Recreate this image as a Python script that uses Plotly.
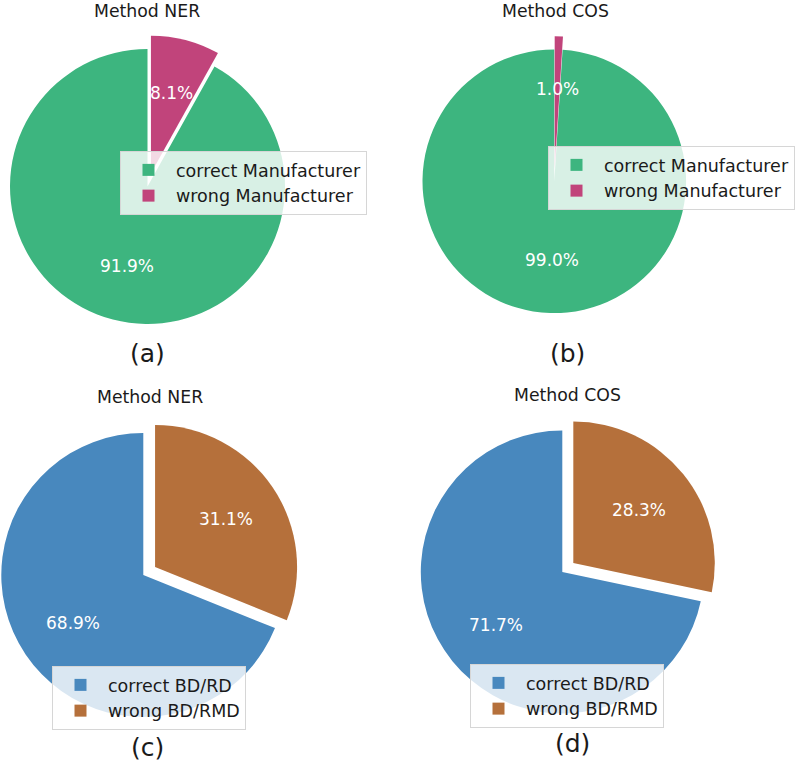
import math
import plotly.graph_objects as go

# ---------------- data ----------------
labels_mfr = ["correct Manufacturer", "wrong Manufacturer"]
labels_bd = ["correct BD/RD", "wrong BD/RMD"]
ner_mfr = [91.9, 8.1]
cos_mfr = [99.0, 1.0]
ner_bd = [68.9, 31.1]
cos_bd = [71.7, 28.3]
titles = ["Method NER", "Method COS", "Method NER", "Method COS"]
panel_tags = ["(a)", "(b)", "(c)", "(d)"]

# ---------------- style / layout ----------------
W, H = 797, 766
PULL = 0.1
colors_mfr = ["#3db57f", "#c1447b"]
colors_bd = ["#4888be", "#b5703b"]
CLEAR = "rgba(0,0,0,0)"

panels = [
    dict(labels=labels_mfr, values=ner_mfr, colors=colors_mfr, cx=147.5, cy=186.5, r=137.5,
         title_xy=(147, 11), tag_xy=(147, 353), legend_xy=(120, 151)),
    dict(labels=labels_mfr, values=cos_mfr, colors=colors_mfr, cx=554.3, cy=181.3, r=131.8,
         title_xy=(555, 11), tag_xy=(567, 353), legend_xy=(548, 146)),
    dict(labels=labels_bd, values=ner_bd, colors=colors_bd, cx=143.3, cy=575.0, r=142.0,
         title_xy=(150, 397), tag_xy=(147, 747), legend_xy=(52, 666)),
    dict(labels=labels_bd, values=cos_bd, colors=colors_bd, cx=562.3, cy=572.0, r=141.5,
         title_xy=(567, 395), tag_xy=(572, 743), legend_xy=(470, 664)),
]
for p, t, g in zip(panels, titles, panel_tags):
    p["title"] = t
    p["tag"] = g


def px_x(x):
    return x / W


def px_y(y):
    return 1 - y / H


def domain(cx, cy, r):
    return dict(x=[px_x(cx - r), px_x(cx + r)], y=[px_y(cy + r), px_y(cy - r)])


fig = go.Figure()
annotations = []
legend_names = ["legend", "legend2", "legend3", "legend4"]

for i, p in enumerate(panels):
    vals = p["values"]
    total = sum(vals)
    frac_c = vals[0] / total
    frac_w = vals[1] / total
    cx, cy, r = p["cx"], p["cy"], p["r"]
    # "correct" spans leftwards from 12 o'clock, "wrong" sits just right of 12 o'clock
    mid_c = math.radians(90 + 180 * frac_c)
    mid_w = math.radians(90 - 180 * frac_w)
    sx = cx + PULL * r * math.cos(mid_w)
    sy = cy - PULL * r * math.sin(mid_w)
    lg = legend_names[i]

    common = dict(labels=p["labels"], values=vals, sort=False, direction="clockwise",
                  rotation=360 * frac_w, textinfo="none", hoverinfo="skip",
                  legend=lg, legendgroup=f"panel{i}")
    # unexploded "correct" slice
    fig.add_trace(go.Pie(**common, domain=domain(cx, cy, r), showlegend=False,
                         marker=dict(colors=[p["colors"][0], CLEAR], line=dict(width=0))))
    # exploded "wrong" slice
    fig.add_trace(go.Pie(**common, domain=domain(sx, sy, r), showlegend=False,
                         marker=dict(colors=[CLEAR, p["colors"][1]], line=dict(width=0))))
    # legend carrier (tiny)
    fig.add_trace(go.Pie(**common, domain=domain(cx, cy, 0.05), showlegend=True,
                         marker=dict(colors=p["colors"], line=dict(width=0))))

    # percentage labels at 0.6 R along bisectors
    lx = cx + 0.6 * r * math.cos(mid_c)
    ly = cy - 0.6 * r * math.sin(mid_c)
    annotations.append(dict(x=px_x(lx), y=px_y(ly), text=f"{vals[0]:.1f}%"))
    lx = sx + 0.6 * r * math.cos(mid_w)
    ly = sy - 0.6 * r * math.sin(mid_w)
    annotations.append(dict(x=px_x(lx), y=px_y(ly), text=f"{vals[1]:.1f}%"))

ann_list = []
for a in annotations:
    ann_list.append(dict(x=a["x"], y=a["y"], xref="paper", yref="paper", text=a["text"],
                         showarrow=False, xanchor="center", yanchor="middle",
                         font=dict(family="DejaVu Sans", size=17, color="white")))
for p in panels:
    tx, ty = p["title_xy"]
    ann_list.append(dict(x=px_x(tx), y=px_y(ty), xref="paper", yref="paper", text=p["title"],
                         showarrow=False, xanchor="center", yanchor="middle",
                         font=dict(family="DejaVu Sans", size=17.3, color="#1a1a1a")))
    gx, gy = p["tag_xy"]
    ann_list.append(dict(x=px_x(gx), y=px_y(gy), xref="paper", yref="paper", text=p["tag"],
                         showarrow=False, xanchor="center", yanchor="middle",
                         font=dict(family="DejaVu Sans", size=25, color="#1a1a1a")))

legend_style = dict(bgcolor="rgba(255,255,255,0.8)", bordercolor="#d6d6d6", borderwidth=1,
                    font=dict(family="DejaVu Sans", size=17.5, color="#1a1a1a"),
                    xanchor="left", yanchor="top", itemwidth=45, traceorder="normal")
legends = {}
for name, p in zip(legend_names, panels):
    lx, ly = p["legend_xy"]
    legends[name] = dict(x=px_x(lx), y=px_y(ly), **legend_style)

fig.update_layout(width=W, height=H, margin=dict(l=0, r=0, t=0, b=0, autoexpand=False),
                  paper_bgcolor="white", plot_bgcolor="white",
                  annotations=ann_list, **legends)

# remove the default 8px page margin so the figure sits at the window origin
fig.write_html("out.html", config={"displayModeBar": False},
               post_script="document.body.style.margin='0px';")
